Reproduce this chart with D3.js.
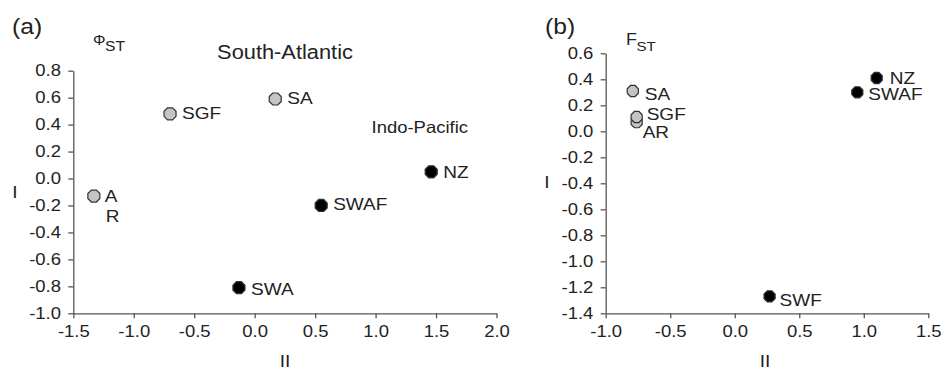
<!DOCTYPE html>
<html>
<head>
<meta charset="utf-8">
<script src="https://cdn.jsdelivr.net/npm/d3@7"></script>
<style>
  body { margin: 0; background: #fff; }
  svg text { font-family: "Liberation Sans", Arial, sans-serif; fill: #222; }
</style>
</head>
<body>
<div id="container"></div>
<script>
/* DATA */
// panel (a) - PhiST
const popsA  = ["AR", "SGF", "SA", "SWA", "SWAF", "NZ"];
const pc2A   = [-1.33, -0.70, 0.17, -0.13, 0.55, 1.46];
const pc1A   = [-0.13, 0.48, 0.59, -0.81, -0.20, 0.05];
const groupA = ["atl", "atl", "atl", "ip", "ip", "ip"];
const xTicksA = [-1.5, -1.0, -0.5, 0.0, 0.5, 1.0, 1.5, 2.0];
const yTicksA = [-1.0, -0.8, -0.6, -0.4, -0.2, 0.0, 0.2, 0.4, 0.6, 0.8];

// panel (b) - FST
const popsB  = ["SA", "AR", "SGF", "NZ", "SWAF", "SWF"];
const pc2B   = [-0.79, -0.76, -0.76, 1.10, 0.95, 0.27];
const pc1B   = [0.31, 0.07, 0.11, 0.41, 0.30, -1.27];
const groupB = ["atl", "atl", "atl", "ip", "ip", "ip"];
const xTicksB = [-1.0, -0.5, 0.0, 0.5, 1.0, 1.5];
const yTicksB = [-1.4, -1.2, -1.0, -0.8, -0.6, -0.4, -0.2, 0.0, 0.2, 0.4, 0.6];

// label nudges (px) so names don't sit on the markers
const offsA = [[11, 6], [12, 5], [12, 5], [12, 7], [12, 5], [12, 6]];
const offsB = [[12, 9], [6, 16], [10, 3], [13, 6], [11, 8], [10, 10]];

const W = 942, H = 371;
const SX = 1.12; // glyphs in the picture are a bit wider than Arial

const svg = d3.select("#container").append("svg")
  .attr("width", W).attr("height", H);

const fmt = d => d.toFixed(1).replace("-0.0", "0.0");

// text helper, stretched horizontally
function addText(g, x, y, str, size, anchor) {
  return g.append("text")
    .attr("transform", `translate(${x},${y}) scale(${SX},1)`)
    .attr("font-size", size)
    .attr("text-anchor", anchor || "start")
    .text(str);
}

// octagon marker
function octagon(r) {
  const pts = d3.range(8).map(i => {
    const a = (i * 45 + 22.5) * Math.PI / 180;
    return [r * Math.cos(a), r * Math.sin(a)];
  });
  return d3.line().curve(d3.curveLinearClosed)(pts);
}

function panel(opt) {
  const g = svg.append("g");
  const x = d3.scaleLinear().domain(opt.xDom).range(opt.xRange);
  const y = d3.scaleLinear().domain(opt.yDom).range(opt.yRange);

  const xAxis = g.append("g")
    .attr("transform", `translate(0,${opt.yRange[0]})`)
    .call(d3.axisBottom(x).tickValues(opt.xTicks).tickFormat(fmt).tickSize(5).tickSizeOuter(0).tickPadding(7));
  const yAxis = g.append("g")
    .attr("transform", `translate(${opt.xRange[0]},0)`)
    .call(d3.axisLeft(y).tickValues(opt.yTicks).tickFormat(fmt).tickSize(5).tickSizeOuter(0).tickPadding(6));

  [xAxis, yAxis].forEach(a => {
    a.select(".domain").attr("stroke", "#555").attr("stroke-width", 1.3);
    a.selectAll(".tick line").attr("stroke", "#555").attr("stroke-width", 1.3);
    a.selectAll(".tick text")
      .attr("font-size", 16.5)
      .attr("fill", "#222")
      .attr("transform", `scale(${SX},1)`);
  });
  xAxis.selectAll(".tick text").attr("x", 0);

  // markers
  const mk = d3.range(opt.pops.length);
  g.selectAll("path.pt")
    .data(mk)
    .join("path")
    .attr("class", "pt")
    .attr("d", octagon(opt.r))
    .attr("transform", i => `translate(${x(opt.pc2[i])},${y(opt.pc1[i])})`)
    .attr("fill", i => opt.group[i] === "atl" ? "#c4c4c4" : "#000")
    .attr("stroke", "#333")
    .attr("stroke-width", 1.2);

  // point labels
  mk.forEach(i => {
    const px = x(opt.pc2[i]) + opt.offs[i][0];
    const py = y(opt.pc1[i]) + opt.offs[i][1];
    if (opt.split && opt.pops[i] === "AR") {
      addText(g, px, py, "A", 17);
      addText(g, px + 1, py + 20, "R", 17);
    } else {
      addText(g, px, py, opt.pops[i], 17);
    }
  });

  // axis titles
  addText(g, opt.iPos[0], opt.iPos[1], "I", 17, "middle");
  addText(g, opt.iiPos[0], opt.iiPos[1], "II", 17, "middle");
  return g;
}

const gA = panel({
  pops: popsA, pc2: pc2A, pc1: pc1A, group: groupA, offs: offsA,
  xDom: [-1.5, 2.0], yDom: [-1.0, 0.8],
  xRange: [73.3, 496.5], yRange: [313.3, 70.7],
  xTicks: xTicksA, yTicks: yTicksA, r: 6.5, split: true,
  iPos: [15, 198], iiPos: [285, 367]
});

const gB = panel({
  pops: popsB, pc2: pc2B, pc1: pc1B, group: groupB, offs: offsB,
  xDom: [-1.0, 1.5], yDom: [-1.4, 0.6],
  xRange: [605.7, 928.3], yRange: [313.3, 53.3],
  xTicks: xTicksB, yTicks: yTicksB, r: 6, split: false,
  iPos: [547, 188], iiPos: [765, 367]
});

// panel letters and headings
addText(gA, 12, 34, "(a)", 22);
addText(gB, 545, 34, "(b)", 22);

addText(gA, 93, 45, "\u03A6", 14);
addText(gA, 105, 50.5, "ST", 14);
addText(gB, 626, 45, "F", 16);
addText(gB, 636.5, 50.5, "ST", 13.5);

addText(gA, 285, 59, "South-Atlantic", 19.5, "middle");
addText(gA, 468, 133, "Indo-Pacific", 16.5, "end");
</script>
</body>
</html>
